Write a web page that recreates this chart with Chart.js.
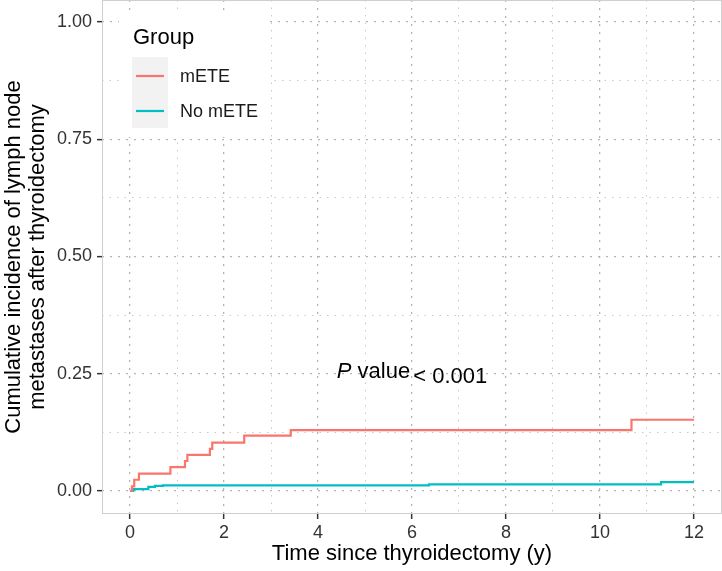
<!DOCTYPE html>
<html>
<head>
<meta charset="utf-8">
<script src="https://cdn.jsdelivr.net/npm/chart.js"></script>
<style>
  html, body { margin: 0; padding: 0; background: #fff; }
  canvas { display: block; }
</style>
</head>
<body>
<canvas id="myChart" width="722" height="571"></canvas>
<script>
// curvas (incidencia acumulada, escalones)
var groupNames = ['mETE', 'No mETE'];
var groupColors = ['#F8766D', '#00BFC4'];

var metTimes  = [0, 0.04, 0.09, 0.19, 0.86, 1.17, 1.22, 1.70, 1.75, 2.43, 3.42, 10.67, 12];
var metValues = [0, 0.010, 0.024, 0.037, 0.051, 0.064, 0.077, 0.090, 0.103, 0.118, 0.130, 0.152, 0.152];

var noMetTimes  = [0, 0.07, 0.39, 0.53, 0.70, 6.36, 11.30, 12];
var noMetValues = [0, 0.004, 0.009, 0.011, 0.012, 0.014, 0.019, 0.019];

var xMajor = [0, 2, 4, 6, 8, 10, 12];
var xMinor = [1, 3, 5, 7, 9, 11];
var yMajor = [0, 0.25, 0.5, 0.75, 1];
var yMinor = [0.125, 0.375, 0.625, 0.875];

var pText = ['P', ' value', '< 0.001'];
var pAt = [6, 0.25];

var FONT = '"Liberation Sans", Arial, Helvetica, sans-serif';

function toPoints(times, values) {
  var pts = [];
  for (var i = 0; i < times.length; i++) pts.push({ x: times[i], y: values[i] });
  return pts;
}

function tickList(major, minor) {
  return major.concat(minor).sort(function (a, b) { return a - b; })
    .map(function (v) { return { value: v }; });
}

function isMajor(list, c) {
  return c.tick && list.indexOf(c.tick.value) >= 0;
}

// borde del panel, leyenda y texto del valor P
var panelDecor = {
  id: 'panelDecor',
  afterDatasetsDraw: function (chart) {
    var ctx = chart.ctx;
    var a = chart.chartArea;
    ctx.save();
    ctx.strokeStyle = '#cfcfcf';
    ctx.lineWidth = 1;
    ctx.strokeRect(a.left + 0.5, a.top + 0.5, a.right - a.left - 1, a.bottom - a.top - 1);

    // leyenda
    ctx.fillStyle = '#fff';
    ctx.fillRect(119, 11, 151, 126);
    ctx.fillStyle = '#000';
    ctx.font = '22px ' + FONT;
    ctx.textBaseline = 'middle';
    ctx.textAlign = 'left';
    ctx.fillText('Group', 133, 38);
    ctx.fillStyle = '#f2f2f2';
    ctx.fillRect(132, 57, 36, 71);
    chart.data.datasets.forEach(function (ds, i) {
      var y = 76 + i * 35;
      ctx.strokeStyle = ds.borderColor;
      ctx.lineWidth = 2.2;
      ctx.beginPath();
      ctx.moveTo(136, y);
      ctx.lineTo(164, y);
      ctx.stroke();
      ctx.fillStyle = '#1a1a1a';
      ctx.font = '18px ' + FONT;
      ctx.fillText(ds.label, 180, y + 1);
    });

    // valor P
    var cx = chart.scales.x.getPixelForValue(pAt[0]);
    var cy = chart.scales.y.getPixelForValue(pAt[1]);
    ctx.fillStyle = '#000';
    ctx.textBaseline = 'alphabetic';
    var fonts = ['italic 22px ' + FONT, '22px ' + FONT, '22px ' + FONT];
    var drops = [4, 4, 9];
    var widths = pText.map(function (t, i) { ctx.font = fonts[i]; return ctx.measureText(t).width; });
    var total = widths[0] + widths[1] + widths[2] + 3;
    var x = cx - total / 2;
    pText.forEach(function (t, i) {
      ctx.font = fonts[i];
      ctx.fillText(t, x, cy + drops[i]);
      x += widths[i] + (i === 1 ? 3 : 0);
    });
    ctx.restore();
  }
};

var ctx = document.getElementById('myChart').getContext('2d');

var chart = new Chart(ctx, {
  type: 'line',
  data: {
    datasets: [{
      label: groupNames[0],
      data: toPoints(metTimes, metValues),
      borderColor: groupColors[0],
      borderWidth: 2.2,
      pointRadius: 0,
      stepped: 'before',
      fill: false
    }, {
      label: groupNames[1],
      data: toPoints(noMetTimes, noMetValues),
      borderColor: groupColors[1],
      borderWidth: 2.2,
      pointRadius: 0,
      stepped: 'before',
      fill: false
    }]
  },
  options: {
    responsive: false,
    animation: false,
    devicePixelRatio: 1,
    layout: { padding: 0, autoPadding: false },
    plugins: {
      legend: { display: false },
      tooltip: { enabled: false }
    },
    scales: {
      x: {
        type: 'linear',
        min: -0.596,
        max: 12.596,
        afterBuildTicks: function (axis) { axis.ticks = tickList(xMajor, xMinor); },
        afterFit: function (axis) {
          axis.height = 57;
          axis.paddingLeft = 0;
          axis.paddingRight = 0;
        },
        grid: {
          color: function (c) { return isMajor(xMajor, c) ? '#b4b4b4' : '#c8c8c8'; },
          lineWidth: function (c) { return isMajor(xMajor, c) ? 1.3 : 1; },
          tickLength: 5,
          tickWidth: 1.5,
          tickColor: function (c) { return isMajor(xMajor, c) ? '#333333' : 'rgba(0,0,0,0)'; }
        },
        border: {
          display: false,
          dash: function (c) { return isMajor(xMajor, c) ? [2, 6] : [1.5, 6]; }
        },
        ticks: {
          autoSkip: false,
          maxRotation: 0,
          padding: 3,
          color: '#333333',
          font: { size: 18, family: FONT },
          callback: function (v) { return xMajor.indexOf(v) >= 0 ? String(v) : ''; }
        },
        title: {
          display: true,
          text: 'Time since thyroidectomy (y)',
          color: '#000',
          font: { size: 22, family: FONT, lineHeight: 1.2 },
          padding: { top: 0, bottom: 4 }
        }
      },
      y: {
        type: 'linear',
        min: -0.049,
        max: 1.047,
        afterBuildTicks: function (axis) { axis.ticks = tickList(yMajor, yMinor); },
        afterFit: function (axis) {
          axis.width = 102;
          axis.paddingTop = 0;
          axis.paddingBottom = 0;
        },
        grid: {
          color: function (c) { return isMajor(yMajor, c) ? '#b4b4b4' : '#c8c8c8'; },
          lineWidth: function (c) { return isMajor(yMajor, c) ? 1.3 : 1; },
          tickLength: 5,
          tickWidth: 1.5,
          tickColor: function (c) { return isMajor(yMajor, c) ? '#333333' : 'rgba(0,0,0,0)'; }
        },
        border: {
          display: false,
          dash: function (c) { return isMajor(yMajor, c) ? [2, 6] : [1.5, 6]; }
        },
        ticks: {
          autoSkip: false,
          padding: 5,
          color: '#333333',
          font: { size: 18, family: FONT },
          callback: function (v) { return yMajor.indexOf(v) >= 0 ? v.toFixed(2) : ''; }
        },
        title: {
          display: true,
          text: ['Cumulative incidence of lymph node', 'metastases after thyroidectomy'],
          color: '#000',
          font: { size: 22, family: FONT, lineHeight: 1.1 },
          padding: { top: 2, bottom: 0 }
        }
      }
    }
  },
  plugins: [panelDecor]
});
</script>
</body>
</html>
